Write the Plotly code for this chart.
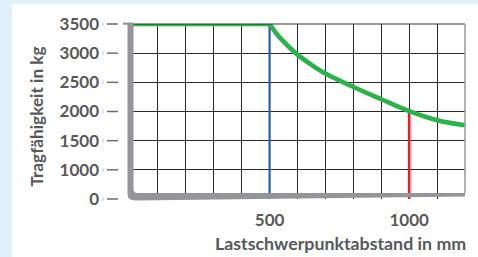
import numpy as np
import plotly.graph_objects as go

# ---- data ----
dist_mm = [0, 500, 525, 540, 600, 650, 700, 800, 900, 1000, 1100, 1200]
capacity_kg = [3500, 3500, 3333, 3250, 2975, 2800, 2650, 2420, 2210, 2005, 1850, 1765]
y_tick_values = [0, 1000, 1500, 2000, 2500, 3000, 3500]
y_tick_labels = ["0", "1000", "1500", "2000", "2500", "3000", "3500"]
x_tick_values = [500, 1000]
x_tick_labels = ["500", "1000"]
x_range = [0, 1200]
x_grid_step = 100
blue_mark_mm = 500
red_mark_mm = 1000

# non-uniform y scale: every tick value is one grid step
def ypos(v):
    return np.interp(v, y_tick_values, np.arange(len(y_tick_values)))

red_top = float(np.interp(red_mark_mm, dist_mm, capacity_kg))
blue_top = float(np.interp(blue_mark_mm, dist_mm, capacity_kg))
knee = dist_mm.index(blue_mark_mm)

W, H = 478, 257
ML, MR, MT, MB = 130, 13, 24, 58
PW, PH = W - ML - MR, H - MT - MB

def ux(px):
    return (px - ML) / PW

def uy(py):
    return (H - MB - py) / PH

TEXT = "#58595b"
GREY = "#939598"
GREEN = "#2bb34b"
FONT = "Lato"

fig = go.Figure()
fig.add_trace(go.Scatter(x=[blue_mark_mm, blue_mark_mm], y=ypos([0, blue_top]), mode="lines",
                         line=dict(color="#2a5caa", width=2.2), hoverinfo="skip"))
fig.add_trace(go.Scatter(x=[red_mark_mm, red_mark_mm], y=ypos([0, red_top]), mode="lines",
                         line=dict(color="#ed1c24", width=2.6), hoverinfo="skip"))
fig.add_trace(go.Scatter(x=dist_mm[:knee + 1], y=ypos(capacity_kg[:knee + 1]), mode="lines",
                         line=dict(color=GREEN, width=4.6), hoverinfo="skip"))
fig.add_trace(go.Scatter(x=dist_mm[knee:], y=ypos(capacity_kg[knee:]), mode="lines",
                         line=dict(color=GREEN, width=4.6, shape="spline", smoothing=1.0),
                         hoverinfo="skip"))

shapes = []
# white panel
shapes.append(dict(type="rect", xref="paper", yref="paper", x0=ux(12), x1=ux(W + 2), y0=uy(H + 2), y1=uy(4),
                   fillcolor="white", line=dict(width=0), layer="below"))
# top border and right border
shapes.append(dict(type="line", xref="paper", yref="paper", x0=ux(133), x1=1, y0=1, y1=1,
                   line=dict(color="#333333", width=1), layer="above"))
shapes.append(dict(type="line", xref="paper", yref="paper", x0=1, x1=1, y0=uy(193), y1=1,
                   line=dict(color="#9a9a9a", width=1.5), layer="above"))

# grey L-shaped axis with tapering bottom bar
def P(px, py):
    return f"{ux(px):.5f},{uy(py):.5f}"

path = ("M " + P(123, 22.5) + " L " + P(133.5, 22.5) + " L " + P(133.5, 189) +
        " Q " + P(133.5, 193) + " " + P(137.5, 193) + " L " + P(W - MR, 193) +
        " L " + P(W - MR, 196.5) + " L " + P(135, 200.5) +
        " Q " + P(127.5, 200.5) + " " + P(127.5, 194) + " L " + P(127.5, 24.7) +
        " L " + P(123, 24.7) + " Z")
shapes.append(dict(type="path", xref="paper", yref="paper", path=path,
                   fillcolor=GREY, line=dict(width=0), layer="above"))

# detached y tick dashes
n = len(y_tick_values)
for i in range(n):
    f = i / (n - 1)
    shapes.append(dict(type="line", xref="paper", yref="y domain", x0=ux(107), x1=ux(118), y0=f, y1=f,
                       line=dict(color="#6d6e71", width=1.5), layer="above"))
    shapes.append(dict(type="line", xref="paper", yref="y domain", x0=ux(103), x1=ux(103),
                       y0=f - 2 / PH, y1=f + 2 / PH,
                       line=dict(color="#c8c8c8", width=1), layer="above"))

annotations = [
    dict(text="Lastschwerpunktabstand in mm", xref="paper", yref="paper", x=ux(340), y=uy(243),
         xanchor="center", yanchor="middle", showarrow=False,
         font=dict(family=FONT, size=17.8, color=TEXT, weight="bold")),
    dict(text="Tragfähigkeit in kg", xref="paper", yref="paper", x=ux(36), y=uy(116.5),
         xanchor="center", yanchor="middle", showarrow=False, textangle=-90,
         font=dict(family=FONT, size=17.2, color=TEXT, weight="bold")),
]

fig.update_layout(
    width=W, height=H, autosize=False,
    margin=dict(l=ML, r=MR, t=MT, b=MB, pad=0),
    paper_bgcolor="#e2f0fa", plot_bgcolor="white",
    showlegend=False,
    shapes=shapes, annotations=annotations,
    xaxis=dict(range=x_range, tickvals=x_tick_values, ticktext=x_tick_labels,
               showgrid=True, gridcolor="#2a2a2a", gridwidth=1, zeroline=False, showline=False,
               ticks="", ticklabelstandoff=9,
               tickfont=dict(family=FONT, size=17, color=TEXT, weight="bold"),
               minor=dict(tick0=0, dtick=x_grid_step, showgrid=True, gridcolor="#2a2a2a", gridwidth=1),
               fixedrange=True),
    yaxis=dict(range=[0, n - 1], tickvals=list(range(n)), ticktext=y_tick_labels,
               showgrid=True, gridcolor="#2a2a2a", gridwidth=1, zeroline=False, showline=False,
               ticks="", ticklabelstandoff=30,
               tickfont=dict(family=FONT, size=17, color=TEXT, weight="bold"),
               fixedrange=True),
)

fig.write_html("out.html", config={"displayModeBar": False},
               post_script="document.body.style.margin='0';document.body.style.overflow='hidden';")
